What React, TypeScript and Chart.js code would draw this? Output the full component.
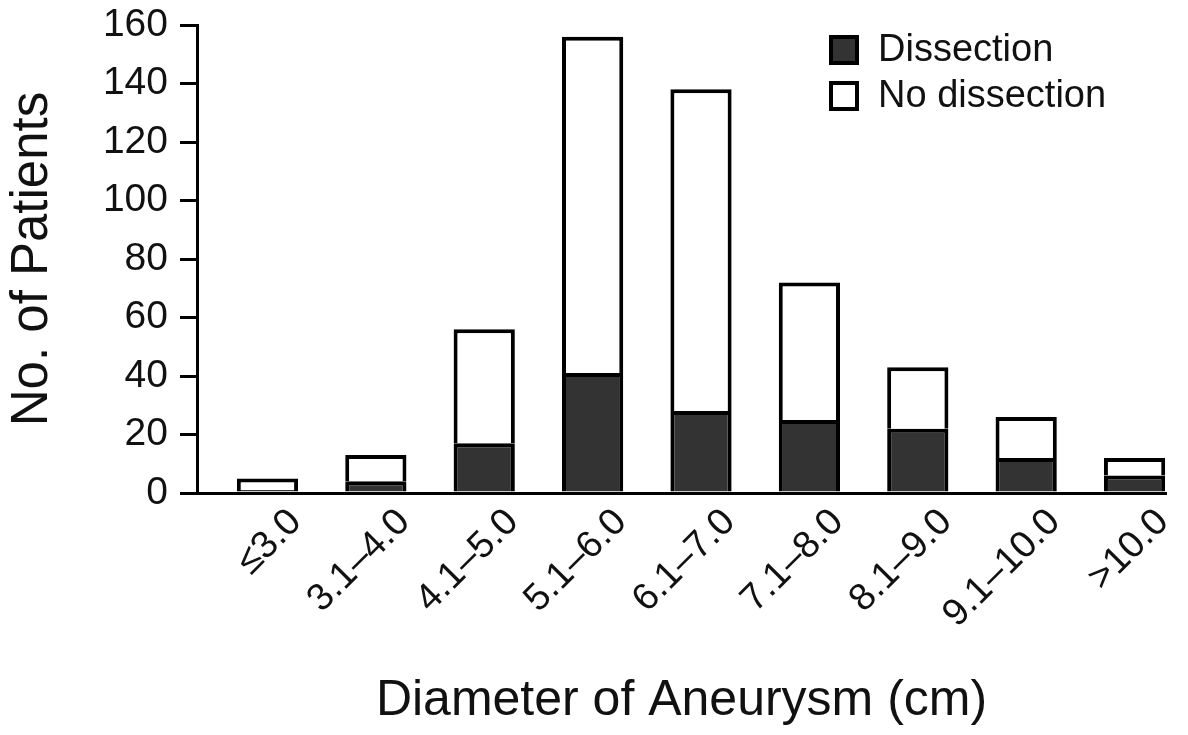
import React, { useEffect, useRef } from "react";
import { Chart, registerables } from "chart.js";

Chart.register(...registerables);

const categories = ["≤3.0", "3.1–4.0", "4.1–5.0", "5.1–6.0", "6.1–7.0", "7.1–8.0", "8.1–9.0", "9.1–10.0", ">10.0"];
const dissection = [1, 4, 17, 41, 28, 25, 22, 12, 6];
const noDissection = [4, 9, 39, 115, 110, 47, 21, 14, 6];
const yTicks = [0, 20, 40, 60, 80, 100, 120, 140, 160];
const seriesNames = ["Dissection", "No dissection"];
const seriesColors = ["#333333", "#ffffff"];

const TICK_SHIFT = 0.26;
const FONT = "'Liberation Sans', Arial, Helvetica, sans-serif";

const legendPlugin = {
  id: "insideLegend",
  afterDraw(chart: any) {
    const ctx = chart.ctx;
    ctx.save();
    const rows = [
      { y: 35, ty: 51 },
      { y: 81, ty: 97 },
    ];
    chart.data.datasets.forEach((ds: any, i: number) => {
      const r = rows[i];
      ctx.fillStyle = ds.backgroundColor;
      ctx.fillRect(829, r.y, 30, 30);
      ctx.lineWidth = 4;
      ctx.strokeStyle = "#000";
      ctx.strokeRect(831, r.y + 2, 26, 26);
      ctx.fillStyle = "#111";
      ctx.font = `38px ${FONT}`;
      ctx.textBaseline = "middle";
      ctx.textAlign = "left";
      ctx.fillText(ds.label, 878, r.ty);
    });
    ctx.restore();
  },
};

export default function App() {
  const ref = useRef<HTMLCanvasElement | null>(null);
  useEffect(() => {
    document.body.style.margin = "0";
    const canvas = ref.current!;
    const chart = new Chart(canvas, {
      type: "bar",
      data: {
        datasets: [
          {
            label: seriesNames[0],
            data: dissection.map((v, i) => ({ x: i, y: v })),
            backgroundColor: seriesColors[0],
            borderColor: "#000",
            borderWidth: 4,
            borderSkipped: "start",
          },
          {
            label: seriesNames[1],
            data: noDissection.map((v, i) => ({ x: i, y: v })),
            backgroundColor: seriesColors[1],
            borderColor: "#000",
            borderWidth: 4,
            borderSkipped: "start",
          },
        ],
      },
      options: {
        animation: false,
        responsive: false,
        maintainAspectRatio: false,
        categoryPercentage: 1,
        barPercentage: 0.565,
        layout: { padding: { top: 25, right: 22, left: 0, bottom: 0 } },
        plugins: { legend: { display: false }, tooltip: { enabled: false } },
        scales: {
          x: {
            type: "linear",
            stacked: true,
            offset: false,
            min: -0.65,
            max: 8.29,
            afterBuildTicks: (axis: any) => {
              axis.ticks = categories.map((_, i) => ({ value: i + TICK_SHIFT }));
            },
            afterFit: (axis: any) => {
              axis.height = 735 - 493;
              axis.paddingLeft = 0;
              axis.paddingRight = 0;
            },
            grid: { display: false, drawTicks: false, offset: false },
            border: { display: true, color: "#000", width: 3 },
            ticks: {
              autoSkip: false,
              minRotation: 45,
              maxRotation: 45,
              padding: 7,
              color: "#111",
              font: { size: 38, family: FONT },
              callback: (v: any) => categories[Math.round(Number(v) - TICK_SHIFT)] ?? "",
            },
            title: {
              display: true,
              text: "Diameter of Aneurysm (cm)",
              color: "#111",
              font: { size: 50, family: FONT, lineHeight: 1 },
              padding: { top: 0, bottom: 9 },
            },
          },
          y: {
            stacked: true,
            min: 0,
            max: 160,
            afterBuildTicks: (axis: any) => {
              axis.ticks = yTicks.map((v) => ({ value: v }));
            },
            afterFit: (axis: any) => {
              axis.width = 197;
              axis.paddingTop = 0;
              axis.paddingBottom = 0;
            },
            grid: {
              drawOnChartArea: false,
              drawTicks: true,
              tickLength: 17,
              color: "#000",
              lineWidth: 3,
            },
            border: { display: true, color: "#000", width: 3 },
            ticks: {
              padding: 12,
              color: "#111",
              font: { size: 39, family: FONT },
            },
            title: {
              display: true,
              text: "No. of Patients",
              color: "#111",
              font: { size: 51, family: FONT, lineHeight: 1 },
              padding: { top: 7, bottom: 0 },
            },
          },
        },
      },
      plugins: [legendPlugin],
    } as any);
    return () => chart.destroy();
  }, []);
  return (
    <div style={{ width: 1188, height: 735, background: "#fff" }}>
      <canvas ref={ref} width={1188} height={735} style={{ display: "block" }} />
    </div>
  );
}
